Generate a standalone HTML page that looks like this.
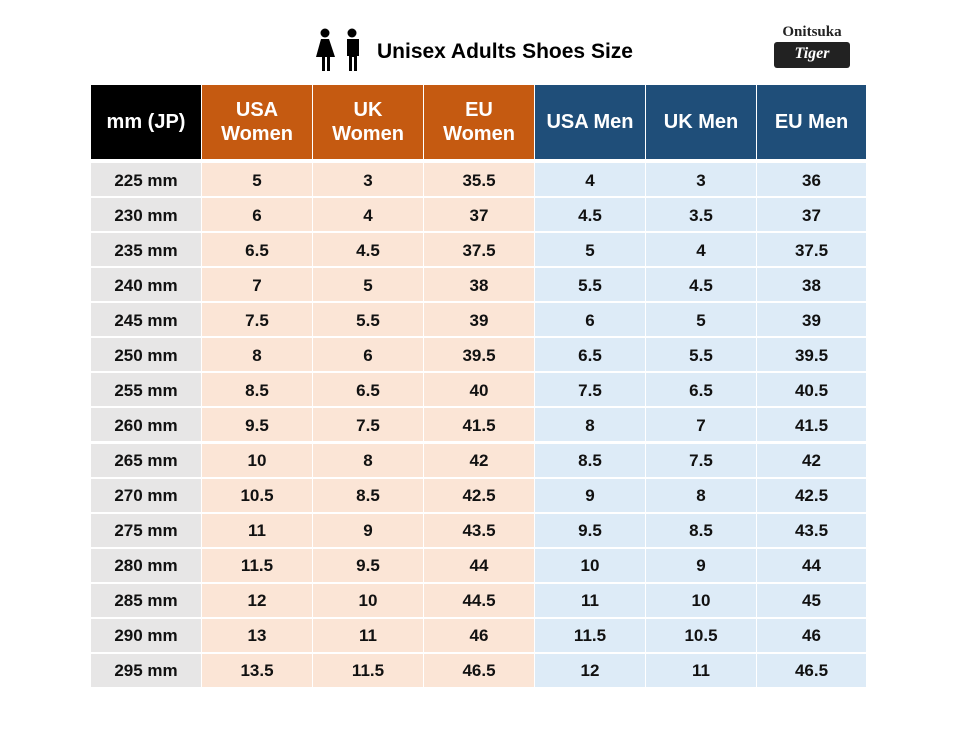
<!DOCTYPE html>
<html><head><style>
body{margin:0;width:960px;height:739px;background:#fff;position:relative;overflow:hidden;font-family:"Liberation Sans","Noto Sans CJK KR",sans-serif;font-weight:bold}
.c{position:absolute;display:flex;align-items:center;justify-content:center;text-align:center;box-sizing:border-box}
.h{color:#fff;font-size:20px;line-height:24px}
.d{font-size:17px;color:#111;padding-top:2px}
</style></head><body>
<svg style="position:absolute;left:313px;top:28px" width="52" height="44" viewBox="0 0 52 44">
<circle cx="12" cy="5" r="4.5" fill="#000"/>
<path d="M8 11h8l6 18h-5v14h-3V29h-2v14H9V29H3z" fill="#000"/>
<circle cx="39" cy="5" r="4.5" fill="#000"/>
<path d="M32 11h14v17h-2v15h-3V29h-2v14h-3V28h-2V11z" fill="#000"/>
</svg>
<div style="position:absolute;left:377px;top:40px;font-size:21px;color:#000">Unisex Adults Shoes Size</div>
<div style="position:absolute;left:772px;top:24px;width:80px;text-align:center;font-family:'Liberation Serif',serif;font-size:15px;color:#222">Onitsuka</div>
<div style="position:absolute;left:774px;top:42px;width:76px;height:26px;background:#222;border-radius:3px;color:#fff;font-family:'Liberation Serif',serif;font-style:italic;font-size:16px;text-align:center;line-height:24px">Tiger</div>
<div id="t"></div>
<script>
var xs=[91,201,312,423,534,645,756,866];
var H=["mm (JP)","USA<br>Women","UK<br>Women","EU<br>Women","USA Men","UK Men","EU Men"];
var hb=["#000","#C55A11","#C55A11","#C55A11","#1F4E79","#1F4E79","#1F4E79"];
var db=["#E7E6E6","#FBE5D6","#FBE5D6","#FBE5D6","#DDEBF7","#DDEBF7","#DDEBF7"];
var R=[["225 mm",5,3,35.5,4,3,36],["230 mm",6,4,37,4.5,3.5,37],["235 mm",6.5,4.5,37.5,5,4,37.5],["240 mm",7,5,38,5.5,4.5,38],["245 mm",7.5,5.5,39,6,5,39],["250 mm",8,6,39.5,6.5,5.5,39.5],["255 mm",8.5,6.5,40,7.5,6.5,40.5],["260 mm",9.5,7.5,41.5,8,7,41.5],["265 mm",10,8,42,8.5,7.5,42],["270 mm",10.5,8.5,42.5,9,8,42.5],["275 mm",11,9,43.5,9.5,8.5,43.5],["280 mm",11.5,9.5,44,10,9,44],["285 mm",12,10,44.5,11,10,45],["290 mm",13,11,46,11.5,10.5,46],["295 mm",13.5,11.5,46.5,12,11,46.5]];
var s="";
for(var j=0;j<7;j++){
 s+='<div class="c h" style="left:'+(xs[j]+(j?1:0))+'px;top:85px;width:'+(xs[j+1]-xs[j]-(j?1:0))+'px;height:74px;background:'+hb[j]+'">'+H[j]+'</div>';
 for(var i=0;i<15;i++){
  var y=163+i*35.07;
  s+='<div class="c d" style="left:'+(xs[j]+(j?1:0))+'px;top:'+y+'px;width:'+(xs[j+1]-xs[j]-(j?1:0))+'px;height:33px;background:'+db[j]+'">'+R[i][j]+'</div>';
 }
}
document.getElementById("t").innerHTML=s;
</script>
</body></html>
